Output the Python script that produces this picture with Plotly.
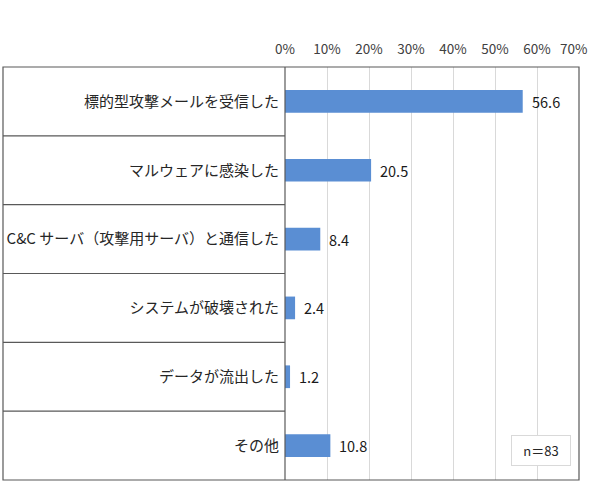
import plotly.graph_objects as go

categories = [
    "標的型攻撃メールを受信した",
    "マルウェアに感染した",
    "C&C サーバ（攻撃用サーバ）と通信した",
    "システムが破壊された",
    "データが流出した",
    "その他",
]
values = [56.6, 20.5, 8.4, 2.4, 1.2, 10.8]
x_ticks = [0, 10, 20, 30, 40, 50, 60, 70]
tick_labels = [f"{t}%" for t in x_ticks]
sample_note = "n＝83"

FONT = "Noto Sans CJK JP"
W, H = 590, 494
L, R, T, B = 285, 11, 67, 14
plot_w = W - L - R
box_left = (3 - L) / plot_w
tick_font = dict(family=FONT, size=13.5, color="#404040")

fig = go.Figure(
    data=[
        go.Bar(
            x=values,
            y=categories,
            orientation="h",
            width=0.33,
            marker=dict(color="#5A8ED3", line=dict(width=0)),
            hoverinfo="x+y",
        )
    ]
)

shapes = [
    # outer frame
    dict(type="rect", xref="paper", yref="paper", x0=box_left, x1=1, y0=0, y1=1,
         line=dict(color="#595959", width=1.2)),
    # axis line at 0
    dict(type="line", xref="paper", yref="paper", x0=0, x1=0, y0=0, y1=1,
         line=dict(color="#595959", width=1.2)),
]
for i in range(len(categories) - 1):
    shapes.append(
        dict(type="line", xref="paper", yref="y", x0=box_left, x1=0,
             y0=i + 0.5, y1=i + 0.5, line=dict(color="#595959", width=1.2))
    )

# value labels next to each bar
annotations = [
    dict(x=v, y=c, xref="x", yref="y", text=f"{v:.1f}", showarrow=False,
         xanchor="left", yanchor="middle", xshift=7,
         font=dict(family=FONT, size=14.5, color="#1a1a1a"))
    for c, v in zip(categories, values)
]
# last tick label sits at the page edge, so nudge it inside
annotations.append(
    dict(x=x_ticks[-1], y=1, xref="x", yref="paper", text=tick_labels[-1],
         showarrow=False, xanchor="right", yanchor="middle", xshift=10, yshift=19,
         font=tick_font)
)
annotations.append(
    dict(text=sample_note, xref="paper", yref="paper", x=0.871, y=0.071,
         xanchor="center", yanchor="middle",
         showarrow=False, font=dict(family=FONT, size=13, color="#262626"),
         bordercolor="#D9D9D9", borderwidth=1, borderpad=5, bgcolor="white",
         width=48)
)

fig.update_layout(
    width=W,
    height=H,
    margin=dict(l=L, r=R, t=T, b=B),
    paper_bgcolor="white",
    plot_bgcolor="white",
    showlegend=False,
    font=dict(family=FONT, color="#262626"),
    shapes=shapes,
    annotations=annotations,
    xaxis=dict(
        side="top",
        range=[0, 70],
        tickvals=x_ticks,
        ticktext=tick_labels[:-1] + [""],
        showgrid=True,
        gridcolor="#D9D9D9",
        gridwidth=1,
        zeroline=False,
        showline=False,
        ticks="",
        ticklabelstandoff=9,
        tickfont=tick_font,
        automargin=False,
        fixedrange=True,
    ),
    yaxis=dict(
        autorange="reversed",
        showgrid=False,
        zeroline=False,
        showline=False,
        ticks="",
        ticklabelstandoff=5,
        tickfont=dict(family=FONT, size=15, color="#262626"),
        automargin=False,
        fixedrange=True,
    ),
    bargap=0.67,
)

fig.write_html(
    "out.html",
    config={"displayModeBar": False},
    post_script="document.body.style.margin='0';",
)
